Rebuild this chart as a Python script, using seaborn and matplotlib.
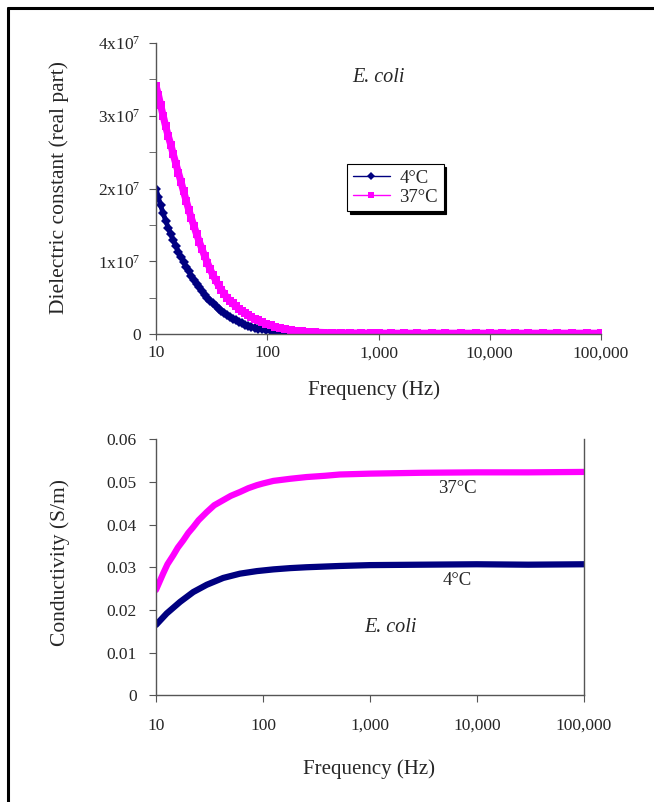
import numpy as np
import pandas as pd
import seaborn as sns
import matplotlib.pyplot as plt
from matplotlib.lines import Line2D

# Dielectric constant (real part), in units of 1e7
freq_eps = [10, 10.5, 11, 11.6, 12.2, 12.9, 13.6, 14.3, 15.1, 15.9, 16.8, 17.7, 18.7, 19.7,
            20.8, 22, 23.2, 24.5, 25.9, 27.4, 29, 30.7, 32.5, 34.4, 36.5, 38.7, 41, 43.5,
            46.2, 49, 52, 55.5, 59, 63, 67, 72, 77, 83, 90, 98, 107, 118, 130, 145, 162,
            182, 205, 235, 270, 320, 380, 460, 560, 700, 850, 1000, 1300, 1700, 2200,
            3000, 4000, 5500, 7500, 10000, 13000, 17000, 22000, 30000, 40000, 55000,
            75000, 100000]
eps_4c = [2.00, 1.88, 1.77, 1.66, 1.56, 1.46, 1.37, 1.29, 1.21, 1.13, 1.06, 0.99, 0.92, 0.86,
          0.80, 0.74, 0.69, 0.64, 0.59, 0.54, 0.50, 0.46, 0.42, 0.38, 0.35, 0.32, 0.29, 0.26,
          0.235, 0.21, 0.19, 0.17, 0.15, 0.13, 0.115, 0.10, 0.088, 0.075, 0.063, 0.052, 0.043,
          0.035, 0.028, 0.022, 0.017, 0.013, 0.010, 0.008, 0.006, 0.005, 0.004, 0.004, 0.003,
          0.003, 0.003, 0.003, 0.003, 0.003, 0.003, 0.003, 0.003, 0.003, 0.003, 0.003, 0.003,
          0.003, 0.003, 0.003, 0.003, 0.003, 0.003, 0.003]
eps_37c = [3.41, 3.29, 3.15, 3.00, 2.86, 2.72, 2.60, 2.47, 2.34, 2.22, 2.09, 1.96, 1.83, 1.71,
           1.59, 1.48, 1.37, 1.27, 1.17, 1.07, 0.98, 0.89, 0.81, 0.74, 0.67, 0.61, 0.55, 0.50,
           0.46, 0.42, 0.38, 0.35, 0.32, 0.29, 0.26, 0.23, 0.21, 0.19, 0.16, 0.14, 0.12, 0.10,
           0.085, 0.07, 0.055, 0.045, 0.035, 0.028, 0.024, 0.02, 0.017, 0.015, 0.013, 0.012,
           0.011, 0.011, 0.01, 0.01, 0.01, 0.01, 0.01, 0.01, 0.01, 0.01, 0.01, 0.01, 0.01,
           0.01, 0.01, 0.01, 0.01, 0.01]

# Conductivity (S/m), lower panel
freq_sig_4c = [10, 12.6, 16.8, 22.3, 29.8, 42.5, 60.9, 87.7, 125, 180, 255, 522, 1000, 3000,
               10000, 30000, 100000]
sig_4c = [0.0165, 0.0192, 0.0219, 0.0242, 0.0259, 0.0275, 0.0285, 0.0291, 0.0295, 0.0298,
          0.0300, 0.0303, 0.0305, 0.0306, 0.0307, 0.0306, 0.0307]
freq_sig_37c = [10, 11.7, 12.8, 14.5, 16, 18, 20, 22.3, 25, 29.8, 35, 42.5, 50, 60.9, 73,
                87.7, 100, 125, 180, 255, 380, 522, 1000, 3000, 10000, 30000, 100000]
sig_37c = [0.0247, 0.0286, 0.0307, 0.0328, 0.0346, 0.0363, 0.0380, 0.0394, 0.0410, 0.0429,
           0.0445, 0.0457, 0.0467, 0.0476, 0.0485, 0.0492, 0.0496, 0.0502, 0.0507, 0.0511,
           0.0514, 0.0517, 0.0519, 0.0521, 0.0522, 0.0522, 0.0523]

xticks = [10, 100, 1000, 10000, 100000]
xtick_labels = ["10", "100", "1,000", "10,000", "100,000"]
eps_ticks = [0, 1e7, 2e7, 3e7, 4e7]
eps_tick_labels = ["0", r"1x10$^{7}$", r"2x10$^{7}$", r"3x10$^{7}$", r"4x10$^{7}$"]
sig_ticks = [0, 0.01, 0.02, 0.03, 0.04, 0.05, 0.06]
sig_tick_labels = ["0", "0.01", "0.02", "0.03", "0.04", "0.05", "0.06"]

NAVY = "#000080"
MAGENTA = "#ff00ff"
SPINE = "#555555"

sns.set_style("ticks")
plt.rcParams["font.family"] = ["Liberation Serif", "DejaVu Serif"]
plt.rcParams["mathtext.fontset"] = "custom"
plt.rcParams["mathtext.rm"] = "Liberation Serif"
plt.rcParams["mathtext.it"] = "Liberation Serif:italic"

fig = plt.figure(figsize=(6.54, 8.02), dpi=100)
ax1 = fig.add_axes([0.2385, 0.5835, 0.6805, 0.3628])
ax2 = fig.add_axes([0.2385, 0.1328, 0.6544, 0.3198])

# --- upper panel
sns.lineplot(x=freq_eps, y=np.array(eps_4c) * 1e7, ax=ax1, color=NAVY, marker="D",
             markersize=5.5, markeredgewidth=0, linewidth=3.5, label="4°C", sort=False)
sns.lineplot(x=freq_eps, y=np.array(eps_37c) * 1e7, ax=ax1, color=MAGENTA, marker="s",
             markersize=5.2, markeredgewidth=0, linewidth=5.2, label="37°C", sort=False)
ax1.set_xscale("log")
ax1.set_xlim(10, 100000)
ax1.set_ylim(0, 4e7)
ax1.set_xticks(xticks)
ax1.set_xticklabels(xtick_labels)
ax1.xaxis.set_minor_locator(plt.NullLocator())
ax1.set_yticks(eps_ticks)
ax1.set_yticklabels(eps_tick_labels)
ax1.set_yticks([0.5e7, 1.5e7, 2.5e7, 3.5e7], minor=True)
ax1.tick_params(axis="x", which="major", length=4, pad=4, labelsize=12.5, color=SPINE)
ax1.tick_params(axis="y", which="both", length=5, pad=6, labelsize=12.5, color=SPINE)
ax1.set_xlabel("Frequency (Hz)", fontsize=15)
ax1.set_ylabel("Dielectric constant (real part)", fontsize=15.5)
ax1.xaxis.set_label_coords(0.49, -0.16)
ax1.yaxis.set_label_coords(-0.196, 0.505)
ax1.text(1000, 3.53e7, "E. coli", fontsize=14.5, style="italic", ha="center", va="center")
leg = ax1.legend(loc="upper left", bbox_to_anchor=(0.429, 0.584), borderaxespad=0,
                 fontsize=13.5, frameon=True, fancybox=False, shadow={"color": "black", "alpha": 1},
                 handlelength=2.0, handletextpad=0.5, borderpad=0.3, labelspacing=0.1)
leg.get_frame().set_edgecolor("black")
leg.get_frame().set_linewidth(0.8)
for h in leg.get_lines():
    h.set_linewidth(1)
    h.set_markersize(4.5)
sns.despine(ax=ax1)

# --- lower panel
sns.lineplot(x=freq_sig_4c, y=sig_4c, ax=ax2, color=NAVY, linewidth=4.5, sort=False)
sns.lineplot(x=freq_sig_37c, y=sig_37c, ax=ax2, color=MAGENTA, linewidth=4.5, sort=False)
ax2.set_xscale("log")
ax2.set_xlim(10, 100000)
ax2.set_ylim(0, 0.06)
ax2.set_xticks(xticks)
ax2.set_xticklabels(xtick_labels)
ax2.xaxis.set_minor_locator(plt.NullLocator())
ax2.set_yticks(sig_ticks)
ax2.set_yticklabels(sig_tick_labels)
ax2.tick_params(axis="x", length=5, pad=11, labelsize=12.5, color=SPINE)
ax2.tick_params(axis="y", length=5, pad=9, labelsize=12.5, color=SPINE)
ax2.set_xlabel("Frequency (Hz)", fontsize=15)
ax2.set_ylabel("Conductivity (S/m)", fontsize=15.5)
ax2.xaxis.set_label_coords(0.497, -0.25)
ax2.yaxis.set_label_coords(-0.2, 0.517)
bb = dict(facecolor="white", edgecolor="none", pad=0.5)
ax2.text(6500, 0.0485, "37°C", fontsize=13.5, ha="center", va="center", bbox=bb, zorder=5)
ax2.text(6500, 0.027, "4°C", fontsize=13.5, ha="center", va="center", bbox=bb, zorder=5)
ax2.text(1550, 0.016, "E. coli", fontsize=14.5, style="italic", ha="center", va="center")
sns.despine(ax=ax2, right=False)

for ax in (ax1, ax2):
    for s in ax.spines.values():
        s.set_color(SPINE)
        s.set_linewidth(1)

# page frame (left and top edges)
fig.add_artist(Line2D([8 / 654, 8 / 654], [0, 1 - 8 / 802], color="black", linewidth=2.2,
                      transform=fig.transFigure))
fig.add_artist(Line2D([8 / 654, 1], [1 - 8 / 802, 1 - 8 / 802], color="black", linewidth=2.2,
                      transform=fig.transFigure))

fig.savefig("out.png", dpi=100)
